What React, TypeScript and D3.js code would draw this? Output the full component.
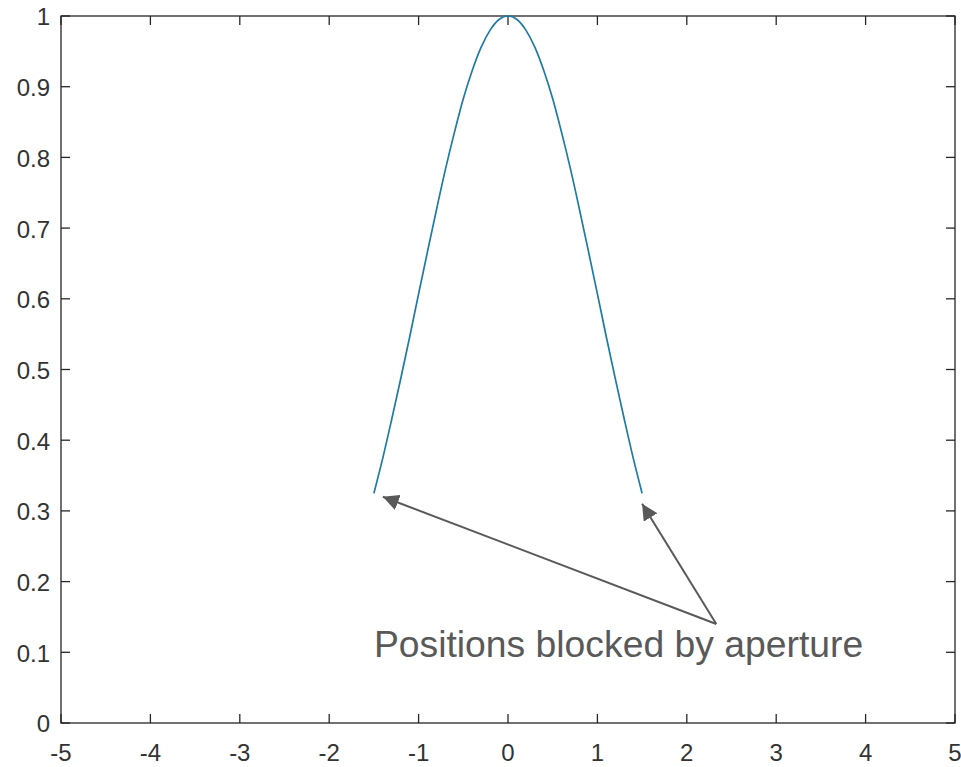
import React, { useEffect, useRef } from "react";
import * as d3 from "d3";

// values
const xs = [-1.5, -1.4, -1.3, -1.2, -1.1, -1.0, -0.9, -0.8, -0.7, -0.6, -0.5, -0.4, -0.3, -0.2, -0.1, 0,
  0.1, 0.2, 0.3, 0.4, 0.5, 0.6, 0.7, 0.8, 0.9, 1.0, 1.1, 1.2, 1.3, 1.4, 1.5];
const ys = [0.325, 0.375, 0.43, 0.487, 0.546, 0.607, 0.667, 0.726, 0.783, 0.835, 0.883, 0.923, 0.956, 0.98, 0.995, 1,
  0.995, 0.98, 0.956, 0.923, 0.883, 0.835, 0.783, 0.726, 0.667, 0.607, 0.546, 0.487, 0.43, 0.375, 0.325];
const xTicks = [-5, -4, -3, -2, -1, 0, 1, 2, 3, 4, 5];
const yTicks = [0, 0.1, 0.2, 0.3, 0.4, 0.5, 0.6, 0.7, 0.8, 0.9, 1];
const note = "Positions blocked by aperture";
const arrowFrom: [number, number] = [2.33, 0.14];
const arrowTips: [number, number][] = [[-1.4, 0.32], [1.5, 0.31]];

const App = () => {
  const svgRef = useRef<SVGSVGElement>(null);

  useEffect(() => {
    const svg = d3.select(svgRef.current);
    svg.selectAll("*").remove();

    const width = 961;
    const height = 767;
    const margin = { top: 16, right: 6, bottom: 44, left: 61 };

    const x = d3.scaleLinear().domain([-5, 5]).range([margin.left, width - margin.right]);
    const y = d3.scaleLinear().domain([0, 1]).range([height - margin.bottom, margin.top]);

    const axisColor = "#262626";
    const labelColor = "#333";
    const font = "Arial, 'Liberation Sans', sans-serif";

    svg.append("rect").attr("width", width).attr("height", height).attr("fill", "#fff");

    // box
    svg
      .append("rect")
      .attr("x", x(-5))
      .attr("y", y(1))
      .attr("width", x(5) - x(-5))
      .attr("height", y(0) - y(1))
      .attr("fill", "none")
      .attr("stroke", axisColor)
      .attr("stroke-width", 1.3);

    const tickLen = 9;
    const g = svg.append("g").attr("stroke", axisColor).attr("stroke-width", 1.3);
    xTicks.forEach((t) => {
      g.append("line").attr("x1", x(t)).attr("x2", x(t)).attr("y1", y(0)).attr("y2", y(0) - tickLen);
      g.append("line").attr("x1", x(t)).attr("x2", x(t)).attr("y1", y(1)).attr("y2", y(1) + tickLen);
    });
    yTicks.forEach((t) => {
      g.append("line").attr("x1", x(-5)).attr("x2", x(-5) + tickLen).attr("y1", y(t)).attr("y2", y(t));
      g.append("line").attr("x1", x(5)).attr("x2", x(5) - tickLen).attr("y1", y(t)).attr("y2", y(t));
    });

    svg
      .append("g")
      .selectAll("text")
      .data(xTicks)
      .join("text")
      .attr("x", (d) => x(d))
      .attr("y", y(0) + 38)
      .attr("text-anchor", "middle")
      .attr("font-family", font)
      .attr("font-size", 24)
      .attr("fill", labelColor)
      .text((d) => String(d));

    svg
      .append("g")
      .selectAll("text")
      .data(yTicks)
      .join("text")
      .attr("x", x(-5) - 11)
      .attr("y", (d) => y(d) + 1)
      .attr("dy", "0.35em")
      .attr("text-anchor", "end")
      .attr("font-family", font)
      .attr("font-size", 24)
      .attr("fill", labelColor)
      .text((d) => String(d));

    const line = d3
      .line<number>()
      .x((d, i) => x(xs[i]))
      .y((d) => y(d))
      .curve(d3.curveMonotoneX);

    svg
      .append("path")
      .datum(ys)
      .attr("fill", "none")
      .attr("stroke", "#1f7aa6")
      .attr("stroke-width", 1.7)
      .attr("d", line);

    // annotation
    svg
      .append("defs")
      .append("marker")
      .attr("id", "head")
      .attr("viewBox", "0 0 10 10")
      .attr("refX", 10)
      .attr("refY", 5)
      .attr("markerWidth", 8)
      .attr("markerHeight", 8)
      .attr("markerUnits", "strokeWidth")
      .attr("orient", "auto")
      .append("path")
      .attr("d", "M0,0L10,5L0,10z")
      .attr("fill", "#595959");

    arrowTips.forEach((tip) => {
      svg
        .append("line")
        .attr("x1", x(arrowFrom[0]))
        .attr("y1", y(arrowFrom[1]))
        .attr("x2", x(tip[0]))
        .attr("y2", y(tip[1]))
        .attr("stroke", "#595959")
        .attr("stroke-width", 2)
        .attr("marker-end", "url(#head)");
    });

    svg
      .append("text")
      .attr("x", x(-1.5))
      .attr("y", y(0.093))
      .attr("font-family", font)
      .attr("font-size", 37.3)
      .attr("fill", "#595959")
      .text(note);
  }, []);

  return (
    <svg
      ref={svgRef}
      width={961}
      height={767}
      style={{ position: "absolute", left: 0, top: 0, display: "block" }}
    ></svg>
  );
};

export default App;
